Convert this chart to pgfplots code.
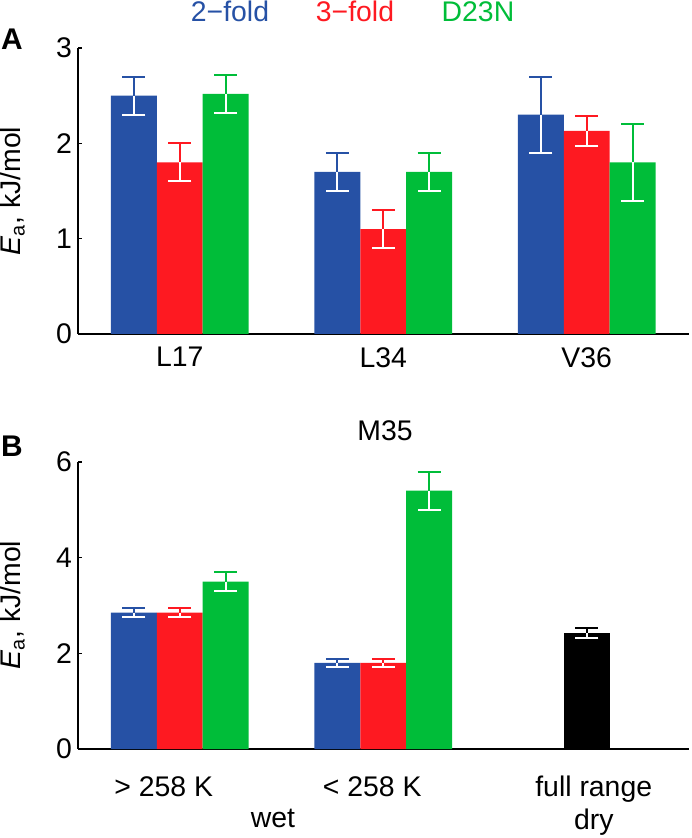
\documentclass[border=0pt]{standalone}
\usepackage{fontspec}
\setmainfont{Liberation Sans}
\usepackage{pgfplots}
\usepackage{pgfplotstable}
\pgfplotsset{compat=1.18}

\definecolor{cblue}{RGB}{38,81,165}
\definecolor{cred}{RGB}{254,25,33}
\definecolor{cgreen}{RGB}{0,189,57}
\newcommand\bigf{\fontsize{28.5}{33}\selectfont}

% panel A: x = residue index + bar offset, y = Ea, e = error
\pgfplotstableread{
x      y    e
-0.226 2.50 0.20
0.774  1.70 0.20
1.774  2.30 0.40
}\Ablue
\pgfplotstableread{
x      y    e
0      1.80 0.20
1      1.10 0.20
2      2.13 0.16
}\Ared
\pgfplotstableread{
x      y    e
0.226  2.52 0.20
1.226  1.70 0.20
2.226  1.80 0.40
}\Agreen

% panel B: M35
\pgfplotstableread{
x      y    e
-0.226 2.85 0.10
0.774  1.80 0.08
}\Bblue
\pgfplotstableread{
x      y    e
0      2.85 0.10
1      1.80 0.08
}\Bred
\pgfplotstableread{
x      y    e
0.226  3.50 0.20
1.226  5.40 0.40
}\Bgreen
\pgfplotstableread{
x      y    e
2      2.42 0.10
}\Bdry

\pgfplotsset{
  panel/.style={
    scale only axis, width=610.5bp,
    xmin=-0.5, xmax=2.5, ymin=0,
    axis x line*=bottom, axis y line*=left,
    axis line style={line width=1.6bp, black},
    xtick={0,1,2}, major x tick style={draw=none},
    tick align=inside, major tick length=4bp,
    major y tick style={line width=1.6bp, black},
    tick label style={font=\bigf},
    yticklabel style={inner sep=0pt, xshift=-6bp},
    xticklabel style={inner sep=0pt, anchor=north, align=center},
    /pgf/number format/assume math mode=true,
    clip=false,
  },
  colbar/.style={ybar, bar width=0.226, bar shift=0pt, fill=#1, draw=none,
    /pgfplots/error bars/y dir=plus, /pgfplots/error bars/y explicit,
    /pgfplots/error bars/error bar style={draw=#1, line width=2bp},
    /pgfplots/error bars/error mark options={rotate=90, draw=#1, line width=2bp, mark size=11.5bp}},
  whitebar/.style={ybar, bar width=0.226, bar shift=0pt, fill=none, draw=none,
    /pgfplots/error bars/y dir=minus, /pgfplots/error bars/y explicit,
    /pgfplots/error bars/error bar style={draw=white, line width=2bp},
    /pgfplots/error bars/error mark options={rotate=90, draw=white, line width=2bp, mark size=11.5bp}},
}

\begin{document}
\begin{tikzpicture}
\path[use as bounding box] (0,0) rectangle (692bp,838bp);

% panel A
\begin{axis}[panel, at={(78bp,504bp)}, anchor=south west, height=286bp,
    ymax=3, ytick={0,1,2,3},
    xticklabels={L17, L34, V36},
    xticklabel style={yshift=-13bp}]
  \addplot[colbar=cblue] table[x=x, y=y, y error=e] {\Ablue};
  \addplot[whitebar] table[x=x, y=y, y error=e] {\Ablue};
  \addplot[colbar=cred] table[x=x, y=y, y error=e] {\Ared};
  \addplot[whitebar] table[x=x, y=y, y error=e] {\Ared};
  \addplot[colbar=cgreen] table[x=x, y=y, y error=e] {\Agreen};
  \addplot[whitebar] table[x=x, y=y, y error=e] {\Agreen};
\end{axis}

% panel B
\begin{axis}[panel, at={(78bp,89bp)}, anchor=south west, height=287bp,
    ymax=6, ytick={0,2,4,6},
    xticklabels={{> 258 K\makebox[32bp]{}}, {< 258 K\makebox[22bp]{}},
      {\makebox[14bp]{}full range\\\makebox[14bp]{}dry}},
    xticklabel style={yshift=-27bp}]
  \addplot[colbar=cblue] table[x=x, y=y, y error=e] {\Bblue};
  \addplot[whitebar] table[x=x, y=y, y error=e] {\Bblue};
  \addplot[colbar=cred] table[x=x, y=y, y error=e] {\Bred};
  \addplot[whitebar] table[x=x, y=y, y error=e] {\Bred};
  \addplot[colbar=cgreen] table[x=x, y=y, y error=e] {\Bgreen};
  \addplot[whitebar] table[x=x, y=y, y error=e] {\Bgreen};
  \addplot[colbar=black] table[x=x, y=y, y error=e] {\Bdry};
  \addplot[whitebar] table[x=x, y=y, y error=e] {\Bdry};
\end{axis}

% legend, panel letters, labels
\node[font=\bigf, text=cblue, anchor=base] at (230bp,816bp) {2−fold};
\node[font=\bigf, text=cred, anchor=base] at (355bp,816bp) {3−fold};
\node[font=\bigf, text=cgreen, anchor=base] at (478bp,816bp) {D23N};
\node[font=\fontsize{30}{36}\selectfont\bfseries, anchor=base west, inner sep=0pt] at (1bp,788bp) {A};
\node[font=\fontsize{30}{36}\selectfont\bfseries, anchor=base west, inner sep=0pt] at (1bp,381bp) {B};
\node[font=\bigf, anchor=base] at (385bp,397bp) {M35};
\node[font=\bigf, anchor=base] at (273bp,11bp) {wet};
\node[font=\bigf, rotate=90, anchor=south, inner sep=0pt] at (25bp,647bp) {\textit{E}\textsubscript{a}, kJ/mol};
\node[font=\bigf, rotate=90, anchor=south, inner sep=0pt] at (25bp,233bp) {\textit{E}\textsubscript{a}, kJ/mol};
\end{tikzpicture}
\end{document}
